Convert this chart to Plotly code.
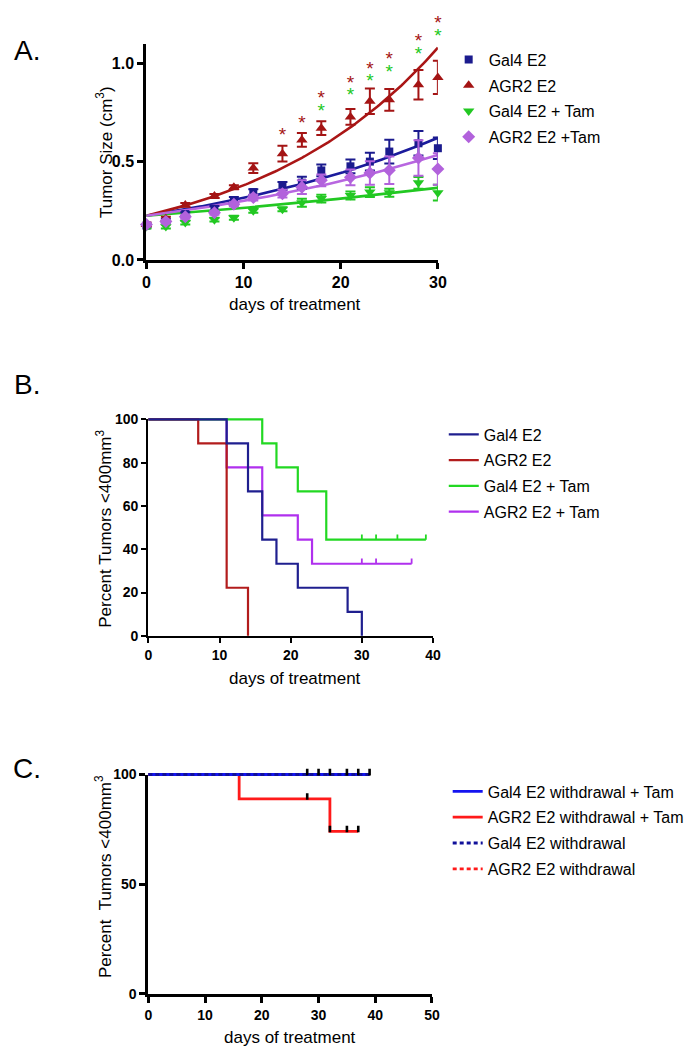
import numpy as np
import plotly.graph_objects as go

# ---------------- Panel A data ----------------
days_a = [0, 2, 4, 7, 9, 11, 14, 16, 18, 21, 23, 25, 28, 30]
gal4_e2 = [0.175, 0.20, 0.233, 0.26, 0.305, 0.345, 0.376, 0.393, 0.455, 0.476, 0.50, 0.551, 0.593, 0.568]
gal4_e2_err = [0.01, 0.01, 0.01, 0.015, 0.015, 0.015, 0.02, 0.03, 0.03, 0.035, 0.045, 0.06, 0.062, 0.055]
agr2_e2 = [0.18, 0.21, 0.28, 0.325, 0.37, 0.467, 0.54, 0.61, 0.67, 0.727, 0.807, 0.814, 0.891, 0.928]
agr2_e2_err = [0.01, 0.01, 0.01, 0.01, 0.01, 0.025, 0.04, 0.035, 0.035, 0.04, 0.065, 0.055, 0.075, 0.085]
gal4_tam = [0.17, 0.17, 0.19, 0.205, 0.215, 0.25, 0.258, 0.291, 0.312, 0.328, 0.345, 0.342, 0.392, 0.342]
gal4_tam_err = [0.01, 0.01, 0.01, 0.01, 0.01, 0.01, 0.01, 0.02, 0.02, 0.02, 0.025, 0.02, 0.03, 0.04]
agr2_tam = [0.18, 0.195, 0.22, 0.24, 0.283, 0.317, 0.337, 0.37, 0.405, 0.42, 0.442, 0.456, 0.518, 0.462]
agr2_tam_err = [0.01, 0.01, 0.01, 0.01, 0.01, 0.015, 0.02, 0.035, 0.03, 0.04, 0.06, 0.07, 0.09, 0.08]

# exponential growth fits (start value and value at day 30)
fit_start = 0.225
fit_end = {"gal4_e2": 0.621, "agr2_e2": 1.079, "gal4_tam": 0.367, "agr2_tam": 0.534}

star_red_days = [14, 16, 18, 21, 23, 25, 28, 30]
star_red_vals = [0.65, 0.71, 0.835, 0.915, 0.983, 1.034, 1.126, 1.218]
star_green_days = [18, 21, 23, 25, 28, 30]
star_green_vals = [0.77, 0.85, 0.923, 0.97, 1.062, 1.154]

# ---------------- Panel B data (Kaplan-Meier) ----------------
km_gal4_t = [0, 11, 14, 16, 18, 21, 28, 30]
km_gal4_s = [100, 88.9, 66.7, 44.4, 33.3, 22.2, 11.1, 0]
km_agr2_t = [0, 7, 11, 14]
km_agr2_s = [100, 88.9, 22.2, 0]
km_gal4tam_t = [0, 16, 18, 21, 25, 39]
km_gal4tam_s = [100, 88.9, 77.8, 66.7, 44.4, 44.4]
km_gal4tam_cens_t = [30, 32, 35, 39]
km_gal4tam_cens_s = [44.4, 44.4, 44.4, 44.4]
km_agr2tam_t = [0, 11, 16, 21, 23, 37]
km_agr2tam_s = [100, 77.8, 55.6, 44.4, 33.3, 33.3]
km_agr2tam_cens_t = [30, 32, 37]
km_agr2tam_cens_s = [33.3, 33.3, 33.3]

# ---------------- Panel C data ----------------
c_gal4wt_t = [0, 39]
c_gal4wt_s = [100, 100]
c_gal4wt_cens_t = [28, 30, 32, 35, 37, 39]
c_gal4wt_cens_s = [100, 100, 100, 100, 100, 100]
c_agr2wt_t = [0, 16, 32, 37]
c_agr2wt_s = [100, 88.9, 74.1, 74.1]
c_agr2wt_cens_t = [28, 32, 35, 37]
c_agr2wt_cens_s = [88.9, 74.1, 74.1, 74.1]
c_gal4w_t = [0, 39]
c_gal4w_s = [100, 100]
c_agr2w_t = [0, 37]
c_agr2w_s = [100, 100]

FONT = "Arial, Liberation Sans, sans-serif"
W, H = 695, 1050


def px_x(p):
    return p / W


def px_y(p):
    return 1 - p / H


def xdom(p0, p1, v0, v1, pad=0):
    s = (v1 - v0) / (p1 - p0)
    return [(p0 - pad) / W, (p1 + pad) / W], [v0 - pad * s, v1 + pad * s]


def ydom(pb, pt, v0, v1, pad=0, pad_top=None):
    s = (v1 - v0) / (pb - pt)
    pt_pad = pad if pad_top is None else pad_top
    return [1 - (pb + pad) / H, 1 - (pt - pt_pad) / H], [v0 - pad * s, v1 + pt_pad * s]


fig = go.Figure()

# ---------- Panel A ----------
colA = {"gal4_e2": "#1b1b8e", "agr2_e2": "#a41414", "gal4_tam": "#22c822", "agr2_tam": "#b262dc"}
fitcol = {"gal4_e2": "#1b1b9c", "agr2_e2": "#aa1616", "gal4_tam": "#22c822", "agr2_tam": "#b866e0"}
seriesA = [
    ("gal4_e2", "Gal4 E2", gal4_e2, gal4_e2_err, "square", 8),
    ("agr2_e2", "AGR2 E2", agr2_e2, agr2_e2_err, "triangle-up", 10),
    ("gal4_tam", "Gal4 E2 + Tam", gal4_tam, gal4_tam_err, "triangle-down", 10),
    ("agr2_tam", "AGR2 E2 +Tam", agr2_tam, agr2_tam_err, "diamond", 10),
]
t_fit = np.linspace(0, 30, 121)
for key, name, vals, err, sym, sz in seriesA:
    k = np.log(fit_end[key] / fit_start) / 30.0
    fig.add_trace(go.Scatter(x=t_fit, y=fit_start * np.exp(k * t_fit), mode="lines",
                             line=dict(color=fitcol[key], width=2.6), showlegend=False,
                             xaxis="x", yaxis="y", hoverinfo="skip", cliponaxis=False))
for key, name, vals, err, sym, sz in seriesA:
    fig.add_trace(go.Scatter(x=days_a, y=vals, mode="markers", name=name, legendgroup="A" + key,
                             marker=dict(symbol=sym, size=sz, color=colA[key]),
                             error_y=dict(type="data", array=err, color=colA[key], thickness=2, width=5),
                             xaxis="x", yaxis="y", legend="legend", cliponaxis=False))
# significance stars: drawn on a hidden axis with the same scale but extending to the page top
STAR_SHIFT = 0.02  # the '*' glyph sits above the text middle; lower it so its centre meets the value
fig.add_trace(go.Scatter(x=star_red_days, y=[v - STAR_SHIFT for v in star_red_vals], mode="text",
                         text=["*"] * len(star_red_days),
                         textfont=dict(color="#a41414", size=19, family=FONT), showlegend=False,
                         xaxis="x6", yaxis="y6", cliponaxis=False, hoverinfo="skip"))
fig.add_trace(go.Scatter(x=star_green_days, y=[v - STAR_SHIFT for v in star_green_vals], mode="text",
                         text=["*"] * len(star_green_days),
                         textfont=dict(color="#22c822", size=19, family=FONT), showlegend=False,
                         xaxis="x6", yaxis="y6", cliponaxis=False, hoverinfo="skip"))

# empty traces so the visible axes of panels B and C get drawn
fig.add_trace(go.Scatter(x=[], y=[], xaxis="x2", yaxis="y2", showlegend=False, hoverinfo="skip"))
fig.add_trace(go.Scatter(x=[], y=[], xaxis="x3", yaxis="y3", showlegend=False, hoverinfo="skip"))

# ---------- Panel B (data drawn on hidden axes with the same scale, padded so nothing is clipped) ----------
colB = {"gal4": "#1f1f8f", "agr2": "#b21c1c", "gal4tam": "#22d822", "agr2tam": "#b030ee"}
seriesB = [  # drawing order: last drawn on top (Gal4 E2 on top, as in the figure)
    ("agr2tam", "AGR2 E2 + Tam", km_agr2tam_t, km_agr2tam_s, km_agr2tam_cens_t, km_agr2tam_cens_s, 4),
    ("gal4tam", "Gal4 E2 + Tam", km_gal4tam_t, km_gal4tam_s, km_gal4tam_cens_t, km_gal4tam_cens_s, 3),
    ("agr2", "AGR2 E2", km_agr2_t, km_agr2_s, None, None, 2),
    ("gal4", "Gal4 E2", km_gal4_t, km_gal4_s, None, None, 1),
]
for key, name, t, s, ct, cs, rank in seriesB:
    fig.add_trace(go.Scatter(x=t, y=s, mode="lines", line=dict(color=colB[key], width=2.2, shape="hv"),
                             name=name, legendgroup="B" + key, legendrank=rank,
                             xaxis="x4", yaxis="y4", legend="legend2"))
    if ct is not None:
        fig.add_trace(go.Scatter(x=ct, y=cs, mode="markers", marker=dict(size=1, color=colB[key], opacity=0),
                                 error_y=dict(type="data", symmetric=False, array=[2.4] * len(ct),
                                              arrayminus=[0] * len(ct), color=colB[key], thickness=1.8, width=0),
                                 showlegend=False, xaxis="x4", yaxis="y4", hoverinfo="skip"))

# ---------- Panel C ----------
blueC, redC, navyC = "#1414f0", "#ff1a1a", "#10109a"
fig.add_trace(go.Scatter(x=c_agr2wt_t, y=c_agr2wt_s, mode="lines", line=dict(color=redC, width=2.8, shape="hv"),
                         name="AGR2 E2 withdrawal + Tam", legendgroup="C2", legendrank=2,
                         xaxis="x5", yaxis="y5", legend="legend3"))
fig.add_trace(go.Scatter(x=c_agr2w_t, y=c_agr2w_s, mode="lines",
                         line=dict(color=redC, width=2.8, dash="4px,3px", shape="hv"),
                         name="AGR2 E2 withdrawal", legendgroup="C4", legendrank=4,
                         xaxis="x5", yaxis="y5", legend="legend3"))
fig.add_trace(go.Scatter(x=c_gal4wt_t, y=c_gal4wt_s, mode="lines", line=dict(color=blueC, width=2.8, shape="hv"),
                         name="Gal4 E2 withdrawal + Tam", legendgroup="C1", legendrank=1,
                         xaxis="x5", yaxis="y5", legend="legend3"))
fig.add_trace(go.Scatter(x=c_gal4w_t, y=c_gal4w_s, mode="lines",
                         line=dict(color=navyC, width=2.8, dash="4px,3px", shape="hv"),
                         name="Gal4 E2 withdrawal", legendgroup="C3", legendrank=3,
                         xaxis="x5", yaxis="y5", legend="legend3"))
for ct, cs in [(c_gal4wt_cens_t, c_gal4wt_cens_s), (c_agr2wt_cens_t, c_agr2wt_cens_s)]:
    fig.add_trace(go.Scatter(x=ct, y=cs, mode="markers", marker=dict(size=1, color="black", opacity=0),
                             error_y=dict(type="data", symmetric=False, array=[2.6] * len(ct),
                                          arrayminus=[0.4] * len(ct), color="black", thickness=2.6, width=0),
                             showlegend=False, xaxis="x5", yaxis="y5", hoverinfo="skip"))


def axis_style(lw, tfs, tl, tw):
    return dict(showline=True, linecolor="black", linewidth=lw, ticks="outside", ticklen=tl, tickwidth=tw,
                tickcolor="black", showgrid=False, zeroline=False,
                tickfont=dict(family=FONT, size=tfs, color="black", weight="bold"))


hidden = dict(visible=False, showgrid=False, zeroline=False, showline=False, fixedrange=True)

xdA, xrA = xdom(137, 434, 0, 30)
ydA, yrA = ydom(248, 28, 0, 1.1)
xdA2, xrA2 = xdom(137, 434, 0, 30, pad=12)
ydA2, yrA2 = ydom(248, 28, 0, 1.1, pad=10, pad_top=28)
xdB, xrB = xdom(139, 429, 0, 40)
ydB, yrB = ydom(630, 410, 0, 100)
xdB2, xrB2 = xdom(139, 429, 0, 40, pad=12)
ydB2, yrB2 = ydom(630, 410, 0, 100, pad=12)
xdC, xrC = xdom(139, 428, 0, 50)
ydC, yrC = ydom(994, 771, 0, 100)
xdC2, xrC2 = xdom(139, 428, 0, 50, pad=12)
ydC2, yrC2 = ydom(994, 771, 0, 100, pad=12)

legend_common = dict(xanchor="left", yanchor="top", bgcolor="rgba(0,0,0,0)", itemwidth=30,
                     tracegroupgap=2, font=dict(family=FONT, size=16, color="black"))

layout = dict(
    width=W, height=H, margin=dict(l=0, r=0, t=0, b=0),
    paper_bgcolor="white", plot_bgcolor="rgba(0,0,0,0)", font=dict(family=FONT, color="black"),
    xaxis=dict(domain=xdA, range=xrA, dtick=10, anchor="y", **axis_style(3.4, 16, 6, 3)),
    yaxis=dict(domain=ydA, range=yrA, dtick=0.5, tickformat=".1f", anchor="x", **axis_style(3.4, 16, 6, 3)),
    xaxis2=dict(domain=xdB, range=xrB, dtick=10, anchor="y2", **axis_style(2.4, 14, 5, 2.2)),
    yaxis2=dict(domain=ydB, range=yrB, dtick=20, anchor="x2", **axis_style(2.4, 14, 5, 2.2)),
    xaxis3=dict(domain=xdC, range=xrC, dtick=10, anchor="y3", **axis_style(3.2, 14, 6, 3)),
    yaxis3=dict(domain=ydC, range=yrC, dtick=50, anchor="x3", **axis_style(3.2, 14, 6, 3)),
    xaxis4=dict(domain=xdB2, range=xrB2, anchor="y4", **hidden),
    yaxis4=dict(domain=ydB2, range=yrB2, anchor="x4", **hidden),
    xaxis5=dict(domain=xdC2, range=xrC2, anchor="y5", **hidden),
    yaxis5=dict(domain=ydC2, range=yrC2, anchor="x5", **hidden),
    xaxis6=dict(domain=xdA2, range=xrA2, anchor="y6", **hidden),
    yaxis6=dict(domain=ydA2, range=yrA2, anchor="x6", **hidden),
    legend=dict(x=px_x(445), y=px_y(27), **legend_common),
    legend2=dict(x=px_x(440), y=px_y(408), **legend_common),
    legend3=dict(x=px_x(444), y=px_y(771), **legend_common),
)
fig.update_layout(**layout)

ann = []
ann.append(dict(text="A.", x=px_x(15), y=px_y(35), font=dict(size=28)))
ann.append(dict(text="B.", x=px_x(15), y=px_y(375), font=dict(size=28)))
ann.append(dict(text="C.", x=px_x(15), y=px_y(765), font=dict(size=28)))
ann.append(dict(text="days of treatment", x=px_x(288), y=px_y(293), font=dict(size=17)))
ann.append(dict(text="days of treatment", x=px_x(288), y=px_y(673), font=dict(size=17)))
ann.append(dict(text="days of treatment", x=px_x(283), y=px_y(1038), font=dict(size=17)))
ann.append(dict(text="Tumor Size (cm<sup>3</sup>)", x=px_x(94), y=px_y(138), textangle=-90, font=dict(size=17)))
ann.append(dict(text="Percent Tumors &lt;400mm<sup>3</sup>", x=px_x(93), y=px_y(521), textangle=-90, font=dict(size=17)))
ann.append(dict(text="Percent  Tumors &lt;400mm<sup>3</sup>", x=px_x(93), y=px_y(875), textangle=-90, font=dict(size=17)))
for a in ann:
    a.update(xref="paper", yref="paper", showarrow=False, xanchor="center", yanchor="middle")
    a["font"].update(family=FONT, color="black")
fig.update_layout(annotations=ann)

fig.write_html("out.html")
